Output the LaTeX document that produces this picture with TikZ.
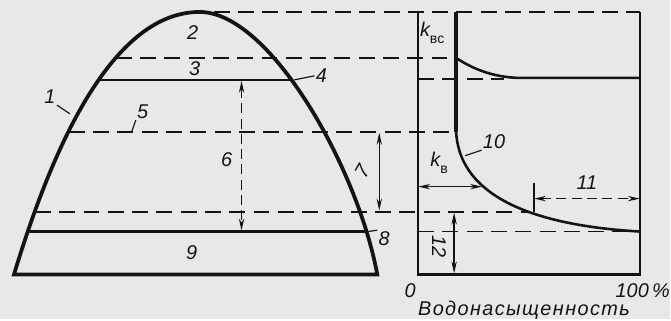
\documentclass[tikz,border=0pt]{standalone}
\usepackage{fontspec}
\setmainfont{Liberation Sans}
\usetikzlibrary{arrows.meta}
\definecolor{paper}{RGB}{232,232,230}
\definecolor{ink}{RGB}{20,20,20}
\newcommand{\XL}{419}
\newcommand{\XR}{641}
\newcommand{\XK}{457}

\begin{document}
\begin{tikzpicture}[
    x=0.03cm, y=-0.03cm,
    >={Stealth[length=3.6mm,width=1.6mm]},
    contour/.style={draw=ink, line width=3.2pt},
    level/.style={draw=ink, line width=2.2pt},
    guide/.style={draw=ink, line width=1.6pt, dash pattern=on 4.8mm off 2.5mm},
    frame/.style={draw=ink, line width=1.9pt},
    dim/.style={draw=ink, line width=1.3pt},
    dimdash/.style={dim, dash pattern=on 3mm off 1.6mm},
    lead/.style={draw=ink, line width=1.0pt},
    num/.style={font=\fontsize{17}{20}\selectfont\itshape, text=ink, inner sep=1pt},
  ]
  \fill[paper] (0,0) rectangle (671,320);

  %% ================= the deposit: its section =================
  \draw[contour] (14,275) .. controls (40,190) and (100,12) .. (200,12)
    .. controls (270,12) and (358,167) .. (378,275) -- cycle;

  \draw[guide] (214,12) -- (\XR,12);
  \draw[guide] (116,58) -- (\XK,58);
  \draw[level] (99,80) -- (292,80);
  \draw[guide] (69,132) -- (\XK,132);
  \draw[guide] (35,212) -- (529,212);
  \draw[level] (28,232) -- (367,232);

  % heights of the zones
  \draw[dimdash, <->] (242,81) -- (242,231);
  \draw[dim, <->] (380,133) -- (380,211);

  \node[num] (n1) at (50,97)   {1};
  \node[num] (n2) at (193,33)  {2};
  \node[num] (n3) at (195,69)  {3};
  \node[num] (n4) at (322,76)  {4};
  \node[num] (n5) at (143,112) {5};
  \node[num] (n6) at (227,160) {6};
  \node[num, rotate=60] (n7) at (363,172) {7};
  \node[num] (n8) at (385,239) {8};
  \node[num] (n9) at (192,253) {9};

  \coordinate (p1) at (70,114);
  \coordinate (p4) at (295,80);
  \coordinate (p5) at (132,132);
  \coordinate (p8) at (369,232);
  \draw[lead] (n1.south east) -- (p1);
  \draw[lead] (n4.west) -- (p4);
  \draw[lead] (n5.south west) -- (p5);
  \draw[lead] (n8.north west) -- (p8);

  %% ================= the curves of permeability =================
  \draw[frame] (\XL,12) -- (\XL,275) -- (\XR,275) -- (\XR,12);
  \draw[guide] (\XL,79) -- (505,79);
  \draw[guide] (\XL,232) -- (\XR,232);

  \draw[contour] (\XK,12) -- (\XK,132);
  \draw[level] (\XK,58) .. controls (475,70) and (495,77) .. (518,78) -- (\XR,78);
  \draw[level] (\XK,132) .. controls (460,190) and (520,225) .. (\XR,232);

  \draw[dim, <->] (\XL,187) -- (483,187);
  \draw[dim] (535,183) -- (535,212);
  \draw[dimdash, <->] (535,199) -- (\XR,199);
  \draw[dim, <->] (455,213) -- (455,274);

  \node[num] (kbc) at (433,33) {k\raisebox{-0.6ex}{\fontsize{12}{14}\selectfont\upshape вс}};
  \node[num] (kb)  at (440,163) {k\raisebox{-0.6ex}{\fontsize{12}{14}\selectfont\upshape в}};
  \node[num] (n10) at (495,142) {10};
  \node[num] (n11) at (588,183) {11};
  \node[num, rotate=-90] (n12) at (440,247) {12};

  \coordinate (p10) at (466,156);
  \draw[lead] (n10.south west) -- (p10);

  \node[num] (zero) at (411,291) {0};
  \node[num] (full) at (644,291) {100\,\%};
  \node[num] (axis) at (525,311) {\addfontfeature{LetterSpace=7}Водонасыщенность};
\end{tikzpicture}
\end{document}
